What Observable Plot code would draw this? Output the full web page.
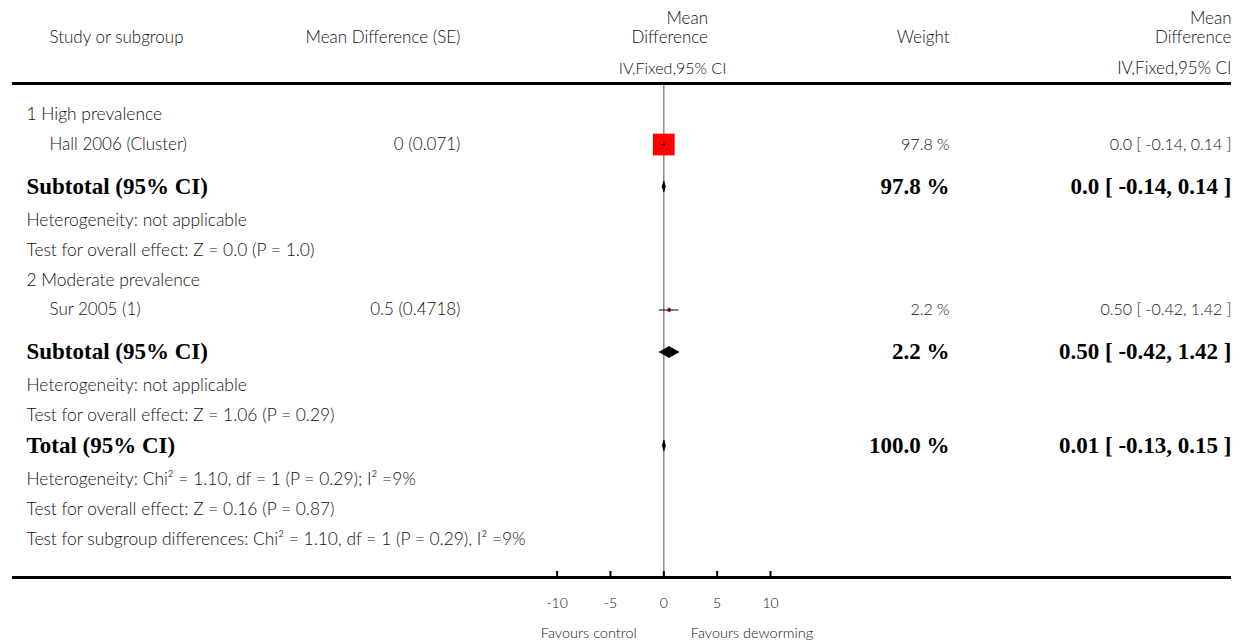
<!DOCTYPE html>
<html><head><meta charset="utf-8">
<script src="https://cdn.jsdelivr.net/npm/d3@7"></script>
<script src="https://cdn.jsdelivr.net/npm/@observablehq/plot@0.6"></script>
<style>body{margin:0;background:#fff}</style>
</head><body><div id="chart"></div>
<script>
// ---------------- data ----------------
const headerLeft = ["Study or subgroup", "Mean Difference (SE)"];
const headerMid = ["Mean", "Difference", "IV,Fixed,95% CI"];
const headerWeight = "Weight";
const headerRight = ["Mean", "Difference", "IV,Fixed,95% CI"];

const groups = ["1 High prevalence", "2 Moderate prevalence"];
const studyNames = ["Hall 2006 (Cluster)", "Sur 2005 (1)"];
const studyGroup = [0, 1];
const studyMDSE = ["0 (0.071)", "0.5 (0.4718)"];
const studyMD = [0, 0.5];
const studyLo = [-0.14, -0.42];
const studyHi = [0.14, 1.42];
const studyWeight = [97.8, 2.2];
const studyWeightLabel = ["97.8 %", "2.2 %"];
const studyCI = ["0.0 [ -0.14, 0.14 ]", "0.50 [ -0.42, 1.42 ]"];

const subEst = [0.0, 0.5];
const subLo = [-0.14, -0.42];
const subHi = [0.14, 1.42];
const subWeightLabel = ["97.8 %", "2.2 %"];
const subCI = ["0.0 [ -0.14, 0.14 ]", "0.50 [ -0.42, 1.42 ]"];
const subHet = ["Heterogeneity: not applicable", "Heterogeneity: not applicable"];
const subTest = ["Test for overall effect: Z = 0.0 (P = 1.0)", "Test for overall effect: Z = 1.06 (P = 0.29)"];

const totalEst = 0.01, totalLo = -0.13, totalHi = 0.15;
const totalWeightLabel = "100.0 %";
const totalCI = "0.01 [ -0.13, 0.15 ]";
const totalNotes = [
  "Heterogeneity: Chi² = 1.10, df = 1 (P = 0.29); I² =9%",
  "Test for overall effect: Z = 0.16 (P = 0.87)",
  "Test for subgroup differences: Chi² = 1.10, df = 1 (P = 0.29), I² =9%"
];
const axisTicks = [-10, -5, 0, 5, 10];
const favours = ["Favours control", "Favours deworming"];

// ---------------- layout ----------------
const W = 1243, H = 644;
const X0 = 663.3, PX = 10.67;          // pixel of x=0, pixels per unit
const AXIS_Y = 577, HEAD_RULE = 83, FIRST_ROW = 114;
const GAP = 30, GAP_BOLD = 42, GAP_AFTER_BOLD = 33.5;
const COL_LABEL = 26, COL_STUDY = 49, COL_MDSE = 460, COL_W = 949, COL_CI = 1231, COL_MID = 707.5, COL_MID_C = 672;
const SANS = "Lato", SERIF = "Liberation Serif";
const INK = "#111";

// rows in table order
const rows = [];
groups.forEach((g, gi) => {
  rows.push({kind: "group", label: g});
  studyNames.forEach((s, i) => { if (studyGroup[i] === gi) rows.push({kind: "study", label: s, i}); });
  rows.push({kind: "subtotal", label: "Subtotal (95% CI)", gi});
  rows.push({kind: "note", label: subHet[gi]});
  rows.push({kind: "note", label: subTest[gi]});
});
rows.push({kind: "total", label: "Total (95% CI)"});
totalNotes.forEach(t => rows.push({kind: "note", label: t}));

let yy = FIRST_ROW;
rows.forEach((r, k) => {
  if (k > 0) {
    const prev = rows[k - 1].kind;
    yy += r.kind === "subtotal" ? GAP_BOLD : (prev === "subtotal" || prev === "total") ? GAP_AFTER_BOLD : GAP;
  }
  r.y = yy;
});

const isBold = r => r.kind === "subtotal" || r.kind === "total";
const plainLeft = rows.filter(r => r.kind === "group" || r.kind === "note");
const studyRows = rows.filter(r => r.kind === "study").map(r => ({
  ...r, mdse: studyMDSE[r.i], md: studyMD[r.i], lo: studyLo[r.i], hi: studyHi[r.i],
  w: studyWeight[r.i], wl: studyWeightLabel[r.i], ci: studyCI[r.i]
}));
const boldRows = rows.filter(isBold);
const summaries = [];
rows.filter(r => r.kind === "subtotal").forEach(r => summaries.push({y: r.y, est: subEst[r.gi], lo: subLo[r.gi], hi: subHi[r.gi], wl: subWeightLabel[r.gi], ci: subCI[r.gi]}));
rows.filter(r => r.kind === "total").forEach(r => summaries.push({y: r.y, est: totalEst, lo: totalLo, hi: totalHi, wl: totalWeightLabel, ci: totalCI}));

const DH = 5.5;
const diamondPts = [];
summaries.forEach((s, k) => {
  [[s.lo, 0], [s.est, -DH], [s.hi, 0], [s.est, DH], [s.lo, 0]].forEach(([x, dy]) => diamondPts.push({k, x, y: s.y + dy}));
});

const headerTexts = [
  {t: headerLeft[0], y: 37, dx: COL_STUDY, a: "start"},
  {t: headerLeft[1], y: 37, dx: COL_MDSE, a: "end"},
  {t: headerMid[0], y: 18, dx: COL_MID, a: "end"},
  {t: headerMid[1], y: 37, dx: COL_MID, a: "end"},
  {t: headerWeight, y: 37, dx: COL_W, a: "end"},
  {t: headerRight[0], y: 18, dx: COL_CI, a: "end"},
  {t: headerRight[1], y: 37, dx: COL_CI, a: "end"},
  {t: headerRight[2], y: 68, dx: COL_CI, a: "end"}
];

const sans = {fontFamily: SANS, fontWeight: 300, fill: INK, fontSize: 17};
const notes = {...sans, fontSize: 17.4};
const sansR = {...sans, fontSize: 16};
const serif = {fontFamily: SERIF, fontWeight: "bold", fill: "#000", fontSize: 23};

const chart = Plot.plot({
  width: W, height: H,
  marginTop: 0, marginLeft: 0, marginRight: 0, marginBottom: H - AXIS_Y,
  x: {domain: [-X0 / PX, (W - X0) / PX], label: null},
  y: {type: "linear", domain: [0, AXIS_Y], range: [0, AXIS_Y], axis: null},
  r: {type: "sqrt", domain: [0, 100], range: [0, 12.4]},
  style: {fontFamily: SANS, fontSize: "14px", color: INK, background: "#fff"},
  marks: [
    // header texts
    ...headerTexts.map(h => Plot.text([h], {y: "y", text: "t", frameAnchor: "left", dx: h.dx, textAnchor: h.a, ...sans})),
    Plot.text([headerMid[2]], {x: () => 0, y: () => 68, text: d => d, dx: COL_MID_C - X0, ...sansR}),
    Plot.ruleY([HEAD_RULE], {stroke: "#000", strokeWidth: 3, insetLeft: 12, insetRight: 12}),
    // zero line
    Plot.ruleX([0], {y1: () => HEAD_RULE + 2, y2: () => AXIS_Y, stroke: "#8a8a8a", strokeWidth: 1.5}),
    // left texts
    Plot.text(plainLeft, {y: "y", text: "label", frameAnchor: "left", dx: COL_LABEL, textAnchor: "start", ...notes}),
    Plot.text(studyRows, {y: "y", text: "label", frameAnchor: "left", dx: COL_STUDY, textAnchor: "start", ...sans}),
    Plot.text(studyRows, {y: "y", text: "mdse", frameAnchor: "left", dx: COL_MDSE, textAnchor: "end", ...sans}),
    Plot.text(studyRows, {y: "y", text: "wl", frameAnchor: "left", dx: COL_W, textAnchor: "end", ...sansR}),
    Plot.text(studyRows, {y: "y", text: "ci", frameAnchor: "left", dx: COL_CI, textAnchor: "end", ...sansR}),
    Plot.text(boldRows, {y: "y", text: "label", frameAnchor: "left", dx: COL_LABEL, textAnchor: "start", ...serif}),
    Plot.text(summaries, {y: "y", text: "wl", frameAnchor: "left", dx: COL_W, textAnchor: "end", ...serif}),
    Plot.text(summaries, {y: "y", text: "ci", frameAnchor: "left", dx: COL_CI, textAnchor: "end", ...serif}),
    // study markers
    Plot.dot(studyRows, {x: "md", y: "y", r: "w", symbol: "square", fill: "#ff0000", stroke: null}),
    Plot.ruleY(studyRows, {y: "y", x1: "lo", x2: "hi", stroke: "#000", strokeWidth: 1}),
    Plot.ruleX(studyRows, {x: "md", y1: d => d.y - 2, y2: d => d.y + 2, stroke: "#000", strokeWidth: 1}),
    // diamonds
    Plot.line(diamondPts, {x: "x", y: "y", z: "k", fill: "#000", stroke: "#000", strokeWidth: 0.8}),
    // bottom axis
    Plot.ruleY([AXIS_Y], {stroke: "#000", strokeWidth: 3, insetLeft: 12, insetRight: 12}),
    Plot.ruleX(axisTicks, {y1: () => AXIS_Y - 6, y2: () => AXIS_Y, stroke: "#000", strokeWidth: 2}),
    Plot.axisX(axisTicks, {anchor: "bottom", tickSize: 0, tickPadding: 21, tickFormat: d => String(d), fontSize: 14, fontFamily: SANS, fontWeight: 300}),
    Plot.text([favours[0]], {x: () => 0, y: () => 633, text: d => d, dx: -27, textAnchor: "end", ...sans, fontSize: 14.5}),
    Plot.text([favours[1]], {x: () => 0, y: () => 633, text: d => d, dx: 27, textAnchor: "start", ...sans, fontSize: 14.5})
  ]
});
document.getElementById("chart").appendChild(chart);
</script>
</body></html>
